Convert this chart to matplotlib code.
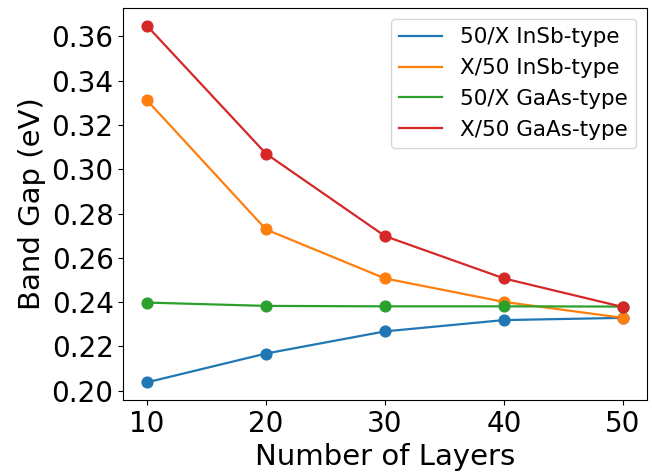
import matplotlib
matplotlib.use("Agg")
from matplotlib import pyplot as plt

layers = [10, 20, 30, 40, 50]
insb_50x = [0.2038, 0.2168, 0.2268, 0.2319, 0.2329]
insb_x50 = [0.3311, 0.2728, 0.2507, 0.2401, 0.2329]
gaas_50x = [0.2398, 0.2383, 0.2381, 0.2381, 0.2380]
gaas_x50 = [0.3647, 0.3070, 0.2698, 0.2507, 0.2378]
band_gap_ticks = [0.20, 0.22, 0.24, 0.26, 0.28, 0.30, 0.32, 0.34, 0.36]

series = [
    ("50/X InSb-type", insb_50x),
    ("X/50 InSb-type", insb_x50),
    ("50/X GaAs-type", gaas_50x),
    ("X/50 GaAs-type", gaas_x50),
]

fig, ax = plt.subplots(figsize=(6.52, 4.73), dpi=100)
for i, (label, values) in enumerate(series):
    color = "C%d" % i
    ax.plot(layers, values, color=color, lw=1.6, label=label)
    ax.scatter(layers, values, color=color, s=60, zorder=3)

ax.set_xticks(layers)
ax.set_yticks(band_gap_ticks)
ax.set_yticklabels(["%.2f" % t for t in band_gap_ticks])
ax.tick_params(labelsize=20)
ax.set_xlabel("Number of Layers", fontsize=21)
ax.set_ylabel("Band Gap (eV)", fontsize=21)
ax.legend(fontsize=15.5, loc="upper right")

fig.subplots_adjust(left=0.189, right=0.992, top=0.983, bottom=0.154)
fig.savefig("out.png", dpi=100)
